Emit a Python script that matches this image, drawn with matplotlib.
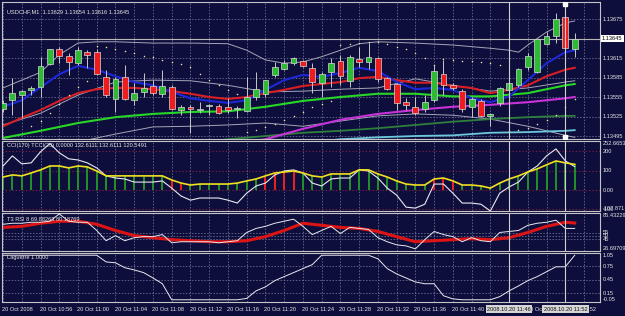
import matplotlib
matplotlib.use("Agg")
import matplotlib.pyplot as plt
import matplotlib.transforms as mtransforms
import numpy as np

plt.rcParams['font.family'] = ['Liberation Sans', 'DejaVu Sans']

# ---------------- data ----------------
symbol_label = "USDCHF,M1  1.13629 1.13654 1.13616 1.13645"
cci_label = "CCI(170) TCCI(20) 0.0000 132.6111 132.6111 120.5491"
rsi_label = "T3 RSI 8 69.88263 80.18769"
lag_label = "Laguerre 1.0000"

# M1 candles, 10:52 .. 11:53
opens = [1.13537, 1.13550, 1.13558, 1.13566, 1.13570, 1.13606, 1.13629, 1.13618, 1.13607, 1.13624,
         1.13624, 1.13586, 1.13552, 1.13586, 1.13550, 1.13563, 1.13572, 1.13560, 1.13570, 1.13535,
         1.13540, 1.13535, 1.13541, 1.13541, 1.13540, 1.13537, 1.13533, 1.13555, 1.13560, 1.13589,
         1.13598, 1.13607, 1.13610, 1.13600, 1.13577, 1.13593, 1.13610, 1.13580, 1.13613, 1.13609,
         1.13615, 1.13584, 1.13575, 1.13547, 1.13540, 1.13537, 1.13550, 1.13590, 1.13573, 1.13564,
         1.13540, 1.13549, 1.13526, 1.13546, 1.13566, 1.13573, 1.13601, 1.13593, 1.13637, 1.13649,
         1.13678, 1.13629]
highs = [1.13550, 1.13584, 1.13566, 1.13572, 1.13617, 1.13629, 1.13632, 1.13623, 1.13632, 1.13627,
         1.13629, 1.13597, 1.13586, 1.13604, 1.13577, 1.13592, 1.13581, 1.13597, 1.13573, 1.13543,
         1.13543, 1.13547, 1.13544, 1.13544, 1.13553, 1.13541, 1.13586, 1.13593, 1.13581, 1.13609,
         1.13612, 1.13617, 1.13612, 1.13607, 1.13593, 1.13615, 1.13620, 1.13620, 1.13632, 1.13638,
         1.13617, 1.13586, 1.13577, 1.13553, 1.13555, 1.13558, 1.13604, 1.13612, 1.13577, 1.13567,
         1.13555, 1.13552, 1.13530, 1.13570, 1.13578, 1.13600, 1.13623, 1.13644, 1.13655, 1.13684,
         1.13681, 1.13654]
lows = [1.13532, 1.13527, 1.13523, 1.13558, 1.13555, 1.13604, 1.13607, 1.13589, 1.13604, 1.13600,
        1.13589, 1.13555, 1.13532, 1.13550, 1.13543, 1.13555, 1.13558, 1.13555, 1.13535, 1.13527,
        1.13500, 1.13530, 1.13527, 1.13529, 1.13530, 1.13523, 1.13532, 1.13550, 1.13555, 1.13586,
        1.13597, 1.13604, 1.13601, 1.13561, 1.13555, 1.13570, 1.13573, 1.13570, 1.13601, 1.13598,
        1.13578, 1.13566, 1.13535, 1.13535, 1.13527, 1.13532, 1.13547, 1.13558, 1.13566, 1.13532,
        1.13524, 1.13524, 1.13510, 1.13541, 1.13558, 1.13570, 1.13597, 1.13592, 1.13635, 1.13638,
        1.13627, 1.13616]
closes = [1.13546, 1.13561, 1.13564, 1.13569, 1.13603, 1.13629, 1.13618, 1.13609, 1.13627, 1.13620,
          1.13590, 1.13558, 1.13583, 1.13552, 1.13561, 1.13569, 1.13561, 1.13572, 1.13537, 1.13540,
          1.13537, 1.13536, 1.13543, 1.13530, 1.13535, 1.13538, 1.13555, 1.13567, 1.13581, 1.13601,
          1.13607, 1.13615, 1.13603, 1.13578, 1.13590, 1.13607, 1.13587, 1.13617, 1.13609, 1.13617,
          1.13583, 1.13567, 1.13546, 1.13543, 1.13530, 1.13547, 1.13595, 1.13573, 1.13569, 1.13537,
          1.13552, 1.13526, 1.13529, 1.13569, 1.13577, 1.13598, 1.13618, 1.13644, 1.13649, 1.13675,
          1.13630, 1.13645]

bid_price = 1.13645
price_levels = [1.13675, 1.13645, 1.13615, 1.13585, 1.13555, 1.13525, 1.13495]

# moving averages / bands on the price chart (bar index, price)
blue_bars = list(range(0, 61, 2)) + [61]
blue_ma = [1.13540, 1.13550, 1.13570, 1.13590, 1.13603, 1.13597, 1.13587, 1.13578, 1.13573, 1.13563,
           1.13553, 1.13549, 1.13546, 1.13550, 1.13566, 1.13581, 1.13589, 1.13586, 1.13592, 1.13600,
           1.13595, 1.13578, 1.13567, 1.13569, 1.13566, 1.13553, 1.13547, 1.13556, 1.13581, 1.13607,
           1.13624, 1.13627]
red_bars = blue_bars
red_ma = [1.13510, 1.13523, 1.13535, 1.13549, 1.13561, 1.13567, 1.13569, 1.13569, 1.13567, 1.13564,
          1.13560, 1.13555, 1.13552, 1.13555, 1.13561, 1.13566, 1.13572, 1.13575, 1.13578, 1.13584,
          1.13586, 1.13581, 1.13577, 1.13577, 1.13572, 1.13569, 1.13561, 1.13566, 1.13573, 1.13587,
          1.13597, 1.13600]
green_bars = list(range(0, 61, 4)) + [61]
green_ma = [1.13492, 1.13503, 1.13515, 1.13524, 1.13529, 1.13532, 1.13533, 1.13540, 1.13549, 1.13555,
            1.13560, 1.13560, 1.13556, 1.13556, 1.13561, 1.13573, 1.13575]
band_up_bars = [0, 2, 4, 6, 8, 10, 12, 16, 20, 24, 26, 28, 30, 32, 34, 36, 38, 40, 44, 48,
                52, 54, 55, 56, 58, 60, 61]
band_up = [1.13569, 1.13581, 1.13593, 1.13620, 1.13638, 1.13640, 1.13640, 1.13638, 1.13638, 1.13637,
           1.13627, 1.13612, 1.13607, 1.13609, 1.13617, 1.13627, 1.13637, 1.13640, 1.13638, 1.13635,
           1.13630, 1.13627, 1.13624, 1.13635, 1.13655, 1.13669, 1.13672]
band_mid_bars = green_bars
band_mid = [1.13512, 1.13530, 1.13558, 1.13578, 1.13581, 1.13580, 1.13573, 1.13563, 1.13564, 1.13567,
            1.13569, 1.13583, 1.13573, 1.13564, 1.13569, 1.13578, 1.13580]
band_lo_bars = list(range(4, 61, 4)) + [61]
band_lo = [1.13470, 1.13486, 1.13498, 1.13509, 1.13510, 1.13512, 1.13515, 1.13510, 1.13518, 1.13526,
           1.13529, 1.13527, 1.13521, 1.13510, 1.13496, 1.13493]
magenta_bars = [26, 28, 32, 36, 40, 44, 48, 52, 56, 60, 61]
magenta_ma = [1.13486, 1.13490, 1.13506, 1.13520, 1.13529, 1.13535, 1.13540, 1.13543, 1.13547, 1.13553,
              1.13555]
dkgreen_bars = [22, 24, 28, 32, 36, 40, 44, 48, 52, 56, 60, 61]
dkgreen_ma = [1.13487, 1.13490, 1.13495, 1.13500, 1.13503, 1.13507, 1.13512, 1.13517, 1.13521, 1.13524,
              1.13526, 1.13526]
cyan_bars = [34, 36, 40, 44, 48, 52, 56, 60, 61]
cyan_ma = [1.13487, 1.13490, 1.13493, 1.13495, 1.13496, 1.13500, 1.13501, 1.13503, 1.13504]

sar_bars = list(range(3, 62))
sar = [1.13510, 1.13518, 1.13530, 1.13544, 1.13558, 1.13570, 1.13580,
       1.13633, 1.13632, 1.13629, 1.13626, 1.13623, 1.13618, 1.13617, 1.13612, 1.13609, 1.13606,
       1.13601, 1.13590, 1.13581, 1.13573, 1.13566, 1.13560,
       1.13501, 1.13504, 1.13509, 1.13513, 1.13520, 1.13526, 1.13532, 1.13540, 1.13544, 1.13549,
       1.13635, 1.13637, 1.13638, 1.13640, 1.13640, 1.13637, 1.13632, 1.13629, 1.13623, 1.13615,
       1.13604, 1.13613, 1.13612, 1.13610, 1.13610, 1.13609, 1.13607, 1.13604,
       1.13503, 1.13504, 1.13507, 1.13513, 1.13520, 1.13527, 1.13540, 1.13552]

# CCI window
tcci = [67, 78, 73, 88, 104, 124, 124, 114, 124, 119,
        98, 73, 73, 73, 73, 73, 73, 73, 52, 36,
        26, 31, 31, 31, 31, 36, 47, 57, 73, 88,
        93, 98, 88, 73, 67, 83, 83, 83, 104, 104,
        83, 67, 47, 31, 26, 26, 57, 62, 47, 26,
        26, 21, 10, 36, 57, 73, 93, 109, 130, 150,
        140, 132.6111]
cci = [124, 176, 135, 140, 197, 240, 192, 161, 155, 140,
       114, 73, 62, 57, 41, 41, 41, 47, 10, -31,
       -52, -41, -41, -41, -52, -67, -16, 21, 36, 78,
       98, 104, 88, 36, 21, 57, 62, 62, 104, 98,
       62, 10, -26, -88, -93, -73, 31, 31, -16, -67,
       -67, -73, -107.871, -16, 16, 41, 93, 124, 176, 212,
       150, 120.5491]
cci_red_bars = [18, 19, 28, 29, 30, 31, 46, 47, 48]
cci_levels = [200, 100, 0, -100]
cci_range = (-107.871, 252.6653)

# T3 RSI window
rsi_t3_bars = list(range(0, 61, 2)) + [61]
rsi_t3 = [63.2, 64.8, 69.6, 72.7, 72.7, 68.0, 58.4, 50.5, 47.3, 44.2,
          42.6, 41.0, 41.0, 42.6, 48.9, 58.4, 69.6, 66.4, 63.2, 61.6,
          56.9, 48.9, 41.0, 42.6, 44.2, 45.7, 44.2, 47.3, 55.3, 64.8,
          71.1, 69.88]
rsi = [68.0, 69.6, 69.6, 71.1, 71.1, 72.7, 84.0, 72.7, 71.1, 71.1,
       58.4, 42.6, 50.5, 42.6, 47.3, 48.9, 48.9, 52.1, 39.4, 41.0,
       41.0, 41.0, 41.0, 39.4, 41.0, 42.6, 55.3, 61.6, 64.8, 69.6,
       72.7, 75.9, 64.8, 52.1, 58.4, 64.8, 53.7, 63.2, 61.6, 60.0,
       47.3, 41.0, 36.2, 34.6, 30.0, 44.2, 56.9, 52.1, 48.9, 41.0,
       47.3, 42.6, 41.0, 55.3, 56.9, 58.4, 66.4, 69.6, 71.1, 74.3,
       61.6, 61.6]
rsi_levels = [55, 50, 45]
rsi_range = (26.69709, 85.43229)

# Laguerre window
laguerre = [1, 1, 1, 1, 1, 1, 1, 1, 1, 1,
            1, 0.85, 0.83, 0.72, 0.67, 0.61, 0.49, 0.36, 0, 0,
            0, 0, 0, 0, 0, 0, 0.03, 0.20, 0.29, 0.43,
            0.52, 0.61, 0.70, 0.79, 1, 1, 1, 1, 1, 1,
            0.92, 0.70, 0.58, 0.49, 0.40, 0.36, 0.36, 0.09, 0.02, 0,
            0, 0, 0, 0.07, 0.20, 0.31, 0.43, 0.52, 0.63, 0.74,
            0.74, 1.0]
lag_levels = [0.75, 0.45, 0.15]
lag_range = (-0.05, 1.05)

time_start = (10, 52)
object_bars = [54, 60]
object_labels = ["2008.10.20 11:46", "2008.10.20 11:52"]

# ---------------- style ----------------
BG = '#0e0e3c'
GRID = '#6f7596'
FRAME = '#c4c4c4'
TXT = '#e6e6e6'
FS = 4.1
DASH = (0, (2, 2))

fig = plt.figure(figsize=(6.25, 3.16), dpi=100, facecolor=BG)


def panel(top, bottom):
    ax = fig.add_axes([2 / 625, 1 - bottom / 316, 598 / 625, (bottom - top) / 316])
    ax.set_facecolor(BG)
    ax.set_xlim(-0.11, 63.7)
    ax.set_xticks([])
    ax.set_yticks([])
    for s in ax.spines.values():
        s.set_color(FRAME)
        s.set_linewidth(0.8)
    for b in range(0, 64, 2):
        ax.axvline(b, color=GRID, lw=0.55, ls=DASH, zorder=0)
    for b in object_bars:
        ax.axvline(b, color='#d0d0d0', lw=0.8, zorder=6)
    return ax


ax_p = panel(2, 139)
ax_c = panel(141, 211)
ax_r = panel(213, 251)
ax_l = panel(253, 302)


def right_label(ax, y, s, va='center'):
    tr = mtransforms.blended_transform_factory(fig.transFigure, ax.transData)
    fig.text(603 / 625, y, s, transform=tr, fontsize=FS, color=TXT, va=va, ha='left')


# ---- price panel ----
o, h, l, c = map(np.array, (opens, highs, lows, closes))
bars = np.arange(len(o))
ax_p.set_ylim(1.134904, 1.137012)
for lv in price_levels:
    ax_p.axhline(lv, color=GRID, lw=0.55, ls=DASH, zorder=0)
ax_p.axhline(bid_price, color='#b8b8b8', lw=0.8, zorder=1)

ax_p.plot(band_up_bars, band_up, color='#a4a4b8', lw=0.7, zorder=2)
ax_p.plot(band_mid_bars, band_mid, color='#a4a4b8', lw=0.7, zorder=2)
ax_p.plot(band_lo_bars, band_lo, color='#a4a4b8', lw=0.7, zorder=2)
ax_p.plot(cyan_bars, cyan_ma, color='#6cc8dc', lw=1.3, zorder=2)
ax_p.plot(dkgreen_bars, dkgreen_ma, color='#2f7f3c', lw=1.3, zorder=2)
ax_p.plot(magenta_bars, magenta_ma, color='#c832d8', lw=1.5, zorder=2)
ax_p.plot(green_bars, green_ma, color='#28d628', lw=1.5, zorder=2)
ax_p.plot(red_bars, red_ma, color='#d81e24', lw=1.5, zorder=2)
ax_p.plot(blue_bars, blue_ma, color='#1c28d8', lw=1.5, zorder=2)
ax_p.scatter(sar_bars, sar, s=1.2, color='#eee6a8', linewidths=0, zorder=3)

up = c >= o
ax_p.vlines(bars, l, h, color='#c8c8c8', lw=0.7, zorder=4)
ax_p.bar(bars, np.where(np.abs(c - o) < 1e-6, 1e-6, c - o), bottom=o, width=0.62,
         color=np.where(up, '#2dbb34', '#ee1c1c'), edgecolor='#d8d8d8', linewidth=0.5, zorder=5)

ax_p.plot([object_bars[1]] * 2, [0.985, 0.015], ls='none', marker='s', ms=2.2,
          color='white', transform=ax_p.get_xaxis_transform(), zorder=7)

ax_p.text(0.008, 0.93, symbol_label, transform=ax_p.transAxes, fontsize=FS, color=TXT, va='center')
for lv in price_levels:
    right_label(ax_p, lv, f"{lv:.5f}")
tr = mtransforms.blended_transform_factory(fig.transFigure, ax_p.transData)
fig.text(602 / 625, bid_price, f"{bid_price:.5f}", transform=tr, fontsize=FS, color='black',
         va='center', ha='left', bbox=dict(boxstyle='square,pad=0.2', fc='white', ec='none'))

# ---- CCI panel ----
ax_c.set_ylim(*cci_range)
for lv in cci_levels:
    ax_c.axhline(lv, color='#8a2040', lw=0.8, ls=(0, (1, 2)), zorder=0)
hist_col = ['#ee2222' if b in cci_red_bars else '#23922a' for b in bars]
ax_c.vlines(bars, 0, tcci, colors=hist_col, lw=1.4, zorder=2)
ax_c.plot(bars, cci, color='#e8e8f0', lw=0.8, zorder=3)
ax_c.plot(bars, tcci, color='#f0e020', lw=1.2, zorder=4)
ax_c.text(0.008, 0.93, cci_label, transform=ax_c.transAxes, fontsize=FS, color=TXT, va='center')
right_label(ax_c, cci_range[1], "252.6653", va='top')
for lv, s in zip(cci_levels, ["200", "100", "0.00", "-100"]):
    right_label(ax_c, lv, s)
right_label(ax_c, cci_range[0], "-107.871", va='bottom')

# ---- T3 RSI panel ----
ax_r.set_ylim(*rsi_range)
for lv in rsi_levels:
    ax_r.axhline(lv, color=GRID, lw=0.55, ls=DASH, zorder=0)
ax_r.plot(bars, rsi, color='#e8e8f0', lw=0.7, zorder=3)
ax_r.plot(rsi_t3_bars, rsi_t3, color='#dd1414', lw=2.2, zorder=2)
ax_r.text(0.008, 0.84, rsi_label, transform=ax_r.transAxes, fontsize=FS, color=TXT, va='center')
right_label(ax_r, rsi_range[1], "85.43229", va='top')
for lv in rsi_levels:
    right_label(ax_r, lv, str(lv))
right_label(ax_r, rsi_range[0], "26.69709", va='bottom')

# ---- Laguerre panel ----
ax_l.set_ylim(*lag_range)
for lv in lag_levels:
    ax_l.axhline(lv, color=GRID, lw=0.55, ls=DASH, zorder=0)
ax_l.plot(bars, laguerre, color='#e8e8f0', lw=0.7, zorder=3)
ax_l.text(0.008, 0.9, lag_label, transform=ax_l.transAxes, fontsize=FS, color=TXT, va='center')
right_label(ax_l, lag_range[1], "1.05", va='top')
for lv in lag_levels:
    right_label(ax_l, lv, f"{lv:.2f}")
right_label(ax_l, lag_range[0], "-0.05", va='bottom')

# ---- time axis ----
xt = ax_l.get_xaxis_transform()
for b in range(0, 61, 4):
    if b == 0:
        s = "20 Oct 2008"
    else:
        mins = time_start[0] * 60 + time_start[1] + b
        s = f"20 Oct {mins // 60}:{mins % 60:02d}"
    ax_l.text(b - 0.1, -0.15, s, transform=xt, fontsize=FS, color=TXT, ha='left', va='center',
              clip_on=False)
for b, s in zip(object_bars, object_labels):
    ax_l.text(b, -0.15, s, transform=xt, fontsize=FS, color='#101010', ha='center', va='center',
              clip_on=False, zorder=10,
              bbox=dict(boxstyle='square,pad=0.25', fc='#d6d6d6', ec='none'))

fig.savefig("out.png", dpi=100, facecolor=BG)
